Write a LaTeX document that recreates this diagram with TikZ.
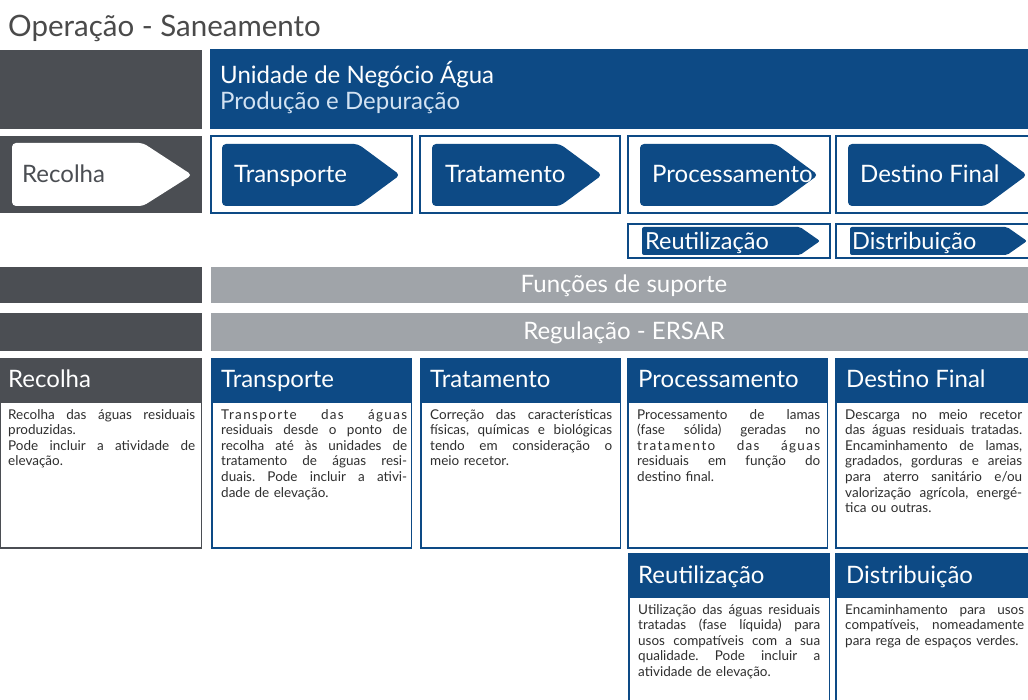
\documentclass[tikz,border=0pt]{standalone}
\usepackage{fontspec}
\setmainfont{Lato}
\definecolor{navy}{HTML}{0D4A85}
\definecolor{dgray}{HTML}{4B4E53}
\definecolor{lgray}{HTML}{A0A4A9}
\definecolor{txt}{HTML}{2E2E2E}
\definecolor{sub}{HTML}{D2E2F2}
\definecolor{ttl}{HTML}{4A4A4A}
\newlength\bw
\newcommand\jl[1]{\makebox[\bw][s]{\spaceskip=0pt\xspaceskip=0pt\relax #1}\\}
\newcommand\spaced[1]{{\addfontfeature{LetterSpace=10}#1}}
\tikzset{
  big/.style={font=\fontsize{24}{26}\selectfont, inner sep=0pt, anchor=base west},
  small/.style={font=\fontsize{23.5}{26}\selectfont, inner sep=0pt, anchor=base west},
  barlabel/.style={font=\fontsize{24}{26}\selectfont, inner sep=0pt, text=white, anchor=base},
  body/.style={font=\fontsize{13.5}{15.6}\selectfont\frenchspacing, inner sep=0pt, anchor=north west, align=left, text=txt, text width=#1, execute at begin node={\global\setlength{\bw}{#1}}},
  frame/.style={draw=navy, line width=1.5pt},
  navyarrow/.style={fill=navy, rounded corners=4pt},
}
\begin{document}
\begin{tikzpicture}[x=1pt,y=-1pt]
\clip (0,0) rectangle (1028,700);
\fill[white] (0,0) rectangle (1028,700);
% title
\node[big, text=ttl, font=\fontsize{29.5}{32}\selectfont] (title) at (8,37) {Operação - Saneamento};
% row 1
\fill[dgray] (0,50) rectangle (202,129);
\fill[navy] (210,49) rectangle (1030,129);
\node[big, text=white] (unid) at (220,84) {Unidade de Negócio Água};
\node[big, text=sub] (prod) at (220,110) {Produção e Depuração};
% row 2
\fill[dgray] (0,136) rectangle (202,213);
\fill[white, rounded corners=4pt] (12,143) -- (143,143) -- (192,175) -- (143,206) -- (12,206) -- cycle;
\node[big, text=dgray] (recA) at (22,183) {Recolha};
\draw[frame] (211,136) rectangle (412,213);
\fill[navyarrow] (222,144) -- (358,144) -- (400,175) -- (358,206) -- (222,206) -- cycle;
\node[big, text=white] (traA) at (234,183) {Transporte};
\draw[frame] (420,136) rectangle (620,213);
\fill[navyarrow] (432,144) -- (560,144) -- (602,175) -- (560,206) -- (432,206) -- cycle;
\node[big, text=white] (treA) at (445,183) {Tratamento};
\draw[frame] (628,136) rectangle (830,213);
\fill[navyarrow] (640,144) -- (776,144) -- (818,175) -- (776,206) -- (640,206) -- cycle;
\node[big, text=white] (proA) at (652,183) {Processamento};
\draw[frame] (836,136) rectangle (1040,213);
\fill[navyarrow] (848,144) -- (985,144) -- (1027,175) -- (985,206) -- (848,206) -- cycle;
\node[big, text=white] (desA) at (860,183) {Destino Final};
% row 2b
\draw[frame] (628,224) rectangle (830,258);
\fill[navy, rounded corners=2pt] (642,227) -- (800,227) -- (820,241) -- (800,255) -- (642,255) -- cycle;
\node[small, text=white] (reuA) at (645,250) {Reutilização};
\draw[frame] (836,224) rectangle (1040,258);
\fill[navy, rounded corners=2pt] (850,227) -- (1007,227) -- (1027,241) -- (1007,255) -- (850,255) -- cycle;
\node[small, text=white] (disA) at (852,250) {Distribuição};
% rows 3-4
\fill[dgray] (0,267) rectangle (202,303);
\fill[lgray] (211,267) rectangle (1030,303);
\node[barlabel] (fun) at (624,293) {Funções de suporte};
\fill[dgray] (0,313) rectangle (202,351);
\fill[lgray] (211,313) rectangle (1030,351);
\node[barlabel] (reg) at (624,340) {Regulação - ERSAR};
% row 5 description boxes
\fill[dgray] (0,359) rectangle (202,403);
\draw[dgray, line width=1.2pt] (0.6,359) rectangle (201.4,548);
\node[big, text=white] (recH) at (8,388) {Recolha};
\node[body=187pt] (recB) at (8,409) {\jl{Recolha das águas residuais}produzidas.\\\jl{Pode incluir a atividade de}elevação.};
\foreach \x/\w in {211/201, 420/201, 627/201, 835/205}{
  \fill[navy] (\x,359) rectangle (\x+\w,403);
  \draw[navy, line width=1.5pt] (\x+0.75,359) rectangle (\x+\w-0.75,548);
}
\node[big, text=white] (traH) at (221,388) {Transporte};
\node[big, text=white] (treH) at (430,388) {Tratamento};
\node[big, text=white] (proH) at (638,388) {Processamento};
\node[big, text=white] (desH) at (846,388) {Destino Final};
\node[body=186pt] (traB) at (221,409) {\jl{\spaced{Transporte das águas}}\jl{residuais desde o ponto de}\jl{recolha até às unidades de}\jl{tratamento de águas resi-}\jl{duais. Pode incluir a ativi-}dade de elevação.};
\node[body=182pt] (treB) at (430,409) {\jl{Correção das características}\jl{físicas, químicas e biológicas}\jl{tendo em consideração o}meio recetor.};
\node[body=183pt] (proB) at (637,409) {\jl{Processamento de lamas}\jl{(fase sólida) geradas no}\jl{\spaced{tratamento das águas}}\jl{residuais em função do}destino final.};
\node[body=177pt] (desB) at (845,409) {\jl{Descarga no meio recetor}\jl{das águas residuais tratadas.}\jl{Encaminhamento de lamas,}\jl{gradados, gorduras e areias}\jl{para aterro sanitário e/ou}\jl{valorização agrícola, energé-}tica ou outras.};
% row 6
\foreach \x/\w in {628/202, 835/205}{
  \fill[navy] (\x,554) rectangle (\x+\w,598);
  \draw[navy, line width=1.5pt] (\x+0.75,554) rectangle (\x+\w-0.75,703);
}
\node[big, text=white] (reuH) at (638,583) {Reutilização};
\node[big, text=white] (disH) at (846,583) {Distribuição};
\node[body=182pt] (reuB) at (638,604) {\jl{Utilização das águas residuais}\jl{tratadas (fase líquida) para}\jl{usos compatíveis com a sua}\jl{qualidade. Pode incluir a}atividade de elevação.};
\node[body=179pt] (disB) at (845,604) {\jl{Encaminhamento para usos}\jl{compatíveis, nomeadamente}para rega de espaços verdes.};
\end{tikzpicture}
\end{document}
